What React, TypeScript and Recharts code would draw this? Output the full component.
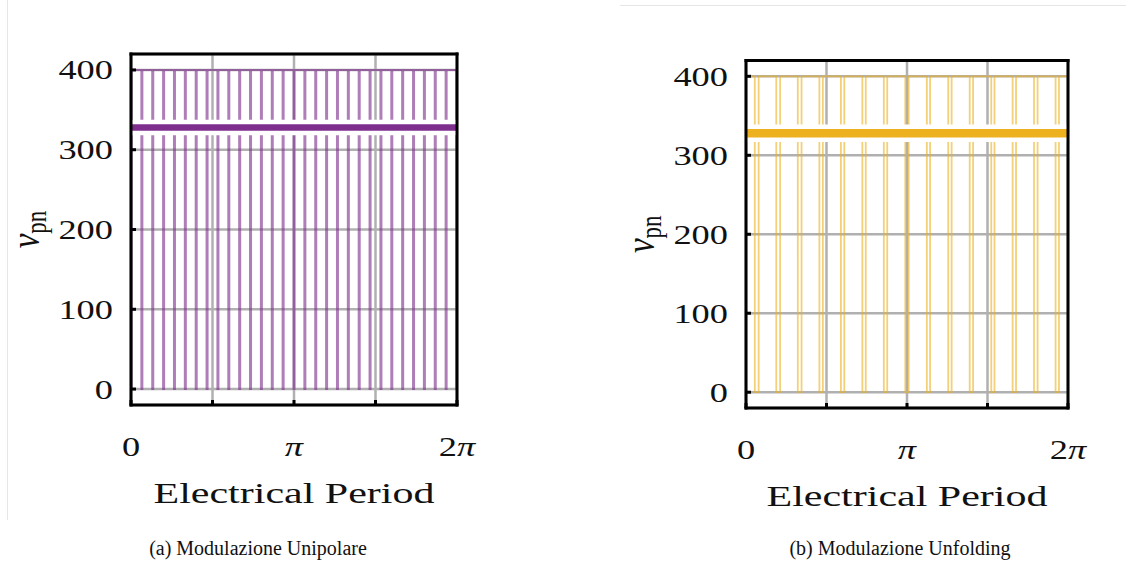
import { CartesianGrid, Line, LineChart, XAxis, YAxis } from 'recharts'

const PI = Math.PI

// axis ticks (radians) and labels; the quarter ticks carry no label
const xTicks = [0, PI / 2, PI, (3 * PI) / 2, 2 * PI]
const xTickLabels = ['0', '', 'π', '', '2π']
const yTicks = [0, 100, 200, 300, 400]
const yDomain = [-20, 420]

// switching levels of v_pn
const vHigh = 400
const vLow = 0

// (a) unipolare: notch centres (deg of the period) and widths (deg)
const unipolarNotchDeg = [
  0, 12, 24, 36, 48, 60, 72, 84, 96, 108, 120, 132, 144, 156, 168, 180,
  192, 204, 216, 228, 240, 252, 264, 276, 288, 300, 312, 324, 336, 348, 360,
]
const unipolarNotchWidthDeg = [
  1, 1, 1, 1, 1, 1, 1, 1, 1, 1, 1, 1, 1, 1, 1, 1,
  1, 1, 1, 1, 1, 1, 1, 1, 1, 1, 1, 1, 1, 1, 1,
]
const unipolarMean = 328

// (b) unfolding
const unfoldingNotchDeg = [12, 36, 60, 84, 108, 132, 156, 180, 204, 228, 252, 276, 300, 324, 348]
const unfoldingNotchWidthDeg = [4.3, 4.3, 4.2, 3.9, 3.8, 3.8, 3.8, 3.8, 3.6, 3.8, 3.8, 3.6, 3.8, 4, 3.8]
const unfoldingMean = 328

const purple = '#7E2F8E'
const orange = '#EDB120'
const serif = '"Liberation Serif", "Times New Roman", serif'
const SX = 1.3 // the original figure is stretched horizontally
const FS = 28

type Pt = { t: number; v: number }

function buildTrace(centres: number[], widths: number[]): Pt[] {
  const pts: Pt[] = [{ t: 0, v: vHigh }]
  centres.forEach((c, i) => {
    const a = ((c - widths[i] / 2) * PI) / 180
    const b = ((c + widths[i] / 2) * PI) / 180
    pts.push({ t: a, v: vHigh }, { t: a, v: vLow }, { t: b, v: vLow }, { t: b, v: vHigh })
  })
  pts.push({ t: 2 * PI, v: vHigh })
  return pts
}

const flat = (v: number): Pt[] => [
  { t: 0, v },
  { t: 2 * PI, v },
]

function mathText(s: string) {
  return s.split('').map((ch, i) =>
    ch === 'π' ? (
      <tspan key={i} fontStyle="italic">
        π
      </tspan>
    ) : (
      <tspan key={i}>{ch}</tspan>
    ),
  )
}

function BottomTick(props: any) {
  const { x, y, index } = props
  const label = xTickLabels[index]
  return (
    <g>
      <line x1={x} x2={x} y1={y} y2={y - 5} stroke="#000" strokeWidth={3} />
      {label && (
        <text
          transform={`translate(${x},${y + 51}) scale(${SX},1)`}
          textAnchor="middle"
          fontSize={FS}
          fontFamily={serif}
          fill="#111"
        >
          {mathText(label)}
        </text>
      )}
    </g>
  )
}

function LeftTick(props: any) {
  const { x, y, payload } = props
  return (
    <g>
      <line x1={x} x2={x + 5} y1={y} y2={y} stroke="#000" strokeWidth={3} />
      <text
        transform={`translate(${x - 18},${y + 9.5}) scale(${SX},1)`}
        textAnchor="end"
        fontSize={FS}
        fontFamily={serif}
        fill="#111"
      >
        {payload.value}
      </text>
    </g>
  )
}

function xTitle(props: any) {
  const { x, y, width } = props.viewBox
  return (
    <text
      x={x + width / 2}
      y={y + 98}
      textAnchor="middle"
      fontSize={30}
      fontFamily={serif}
      fill="#111"
      textLength={281}
      lengthAdjust="spacingAndGlyphs"
    >
      Electrical Period
    </text>
  )
}

function yTitle(props: any) {
  const { x, y, width, height } = props.viewBox
  const bx = x + width - 92
  const cy = y + height * 0.5
  return (
    <text
      transform={`translate(${bx},${cy}) scale(${SX},1) rotate(-90)`}
      textAnchor="middle"
      fontSize={33}
      fontFamily={serif}
      fill="#111"
    >
      <tspan fontStyle="italic">v</tspan>
      <tspan fontSize={23} dy={5}>
        pn
      </tspan>
    </text>
  )
}

const frame = { stroke: '#000', strokeWidth: 3, strokeLinecap: 'square' as const }

interface PanelProps {
  trace: Pt[]
  mean: number
  color: string
  traceWidth: number
  traceOpacity: number
  meanWidth: number
  width: number
  margin: { top: number; right: number; bottom: number; left: number }
  yAxisWidth: number
  xAxisHeight: number
}

function Panel(p: PanelProps) {
  return (
    <LineChart width={p.width} height={530} margin={p.margin}>
      <CartesianGrid xAxisId="b" yAxisId="l" stroke="#b0b0b0" strokeWidth={2.5} />
      <Line
        xAxisId="b"
        yAxisId="l"
        data={p.trace}
        dataKey="v"
        type="linear"
        stroke={p.color}
        strokeOpacity={p.traceOpacity}
        strokeWidth={p.traceWidth}
        dot={false}
        activeDot={false}
        isAnimationActive={false}
      />
      <Line
        xAxisId="b"
        yAxisId="l"
        data={flat(p.mean)}
        dataKey="v"
        stroke="#fff"
        strokeWidth={p.meanWidth + 9}
        dot={false}
        activeDot={false}
        isAnimationActive={false}
      />
      <Line
        xAxisId="b"
        yAxisId="l"
        data={flat(p.mean)}
        dataKey="v"
        stroke={p.color}
        strokeWidth={p.meanWidth}
        dot={false}
        activeDot={false}
        isAnimationActive={false}
      />
      <XAxis
        xAxisId="b"
        dataKey="t"
        type="number"
        domain={[0, 2 * PI]}
        ticks={xTicks}
        interval={0}
        allowDataOverflow
        height={p.xAxisHeight}
        axisLine={frame}
        tickLine={false}
        tickSize={0}
        tickMargin={0}
        tick={BottomTick}
        label={xTitle}
      />
      <XAxis
        xAxisId="t"
        orientation="top"
        dataKey="t"
        type="number"
        domain={[0, 2 * PI]}
        ticks={xTicks}
        interval={0}
        mirror
        height={1}
        axisLine={frame}
        tickLine={{ stroke: '#000', strokeWidth: 3 }}
        tickSize={5}
        tick={false}
      />
      <YAxis
        yAxisId="l"
        type="number"
        domain={yDomain}
        ticks={yTicks}
        interval={0}
        allowDataOverflow
        width={p.yAxisWidth}
        axisLine={frame}
        tickLine={false}
        tickSize={0}
        tickMargin={0}
        tick={LeftTick}
        label={yTitle}
      />
      <YAxis
        yAxisId="r"
        orientation="right"
        type="number"
        domain={yDomain}
        ticks={yTicks}
        interval={0}
        mirror
        width={1}
        axisLine={frame}
        tickLine={{ stroke: '#000', strokeWidth: 3 }}
        tickSize={5}
        tick={false}
      />
    </LineChart>
  )
}

const captionStyle: React.CSSProperties = {
  position: 'absolute',
  top: 537,
  width: 400,
  textAlign: 'center',
  fontFamily: serif,
  fontSize: 20,
  color: '#111',
}

export default function App() {
  return (
    <div
      style={{ position: 'absolute', left: 0, top: 0, width: 1126, height: 573, background: '#fff', overflow: 'hidden' }}
    >
      <div style={{ position: 'absolute', left: 7, top: 0, width: 1, height: 520, background: '#e6e6e6' }} />
      <div style={{ position: 'absolute', left: 620, top: 5, width: 506, height: 1, background: '#e6e6e6' }} />
      <div style={{ position: 'absolute', left: 0, top: 0 }}>
        <Panel
          trace={buildTrace(unipolarNotchDeg, unipolarNotchWidthDeg)}
          mean={unipolarMean}
          color={purple}
          traceWidth={2.1}
          traceOpacity={0.62}
          meanWidth={6.5}
          width={500}
          margin={{ top: 54, right: 43, bottom: 0, left: 0 }}
          yAxisWidth={131}
          xAxisHeight={125}
        />
      </div>
      <div style={{ position: 'absolute', left: 560, top: 0 }}>
        <Panel
          trace={buildTrace(unfoldingNotchDeg, unfoldingNotchWidthDeg)}
          mean={unfoldingMean}
          color={orange}
          traceWidth={1.8}
          traceOpacity={0.6}
          meanWidth={8.5}
          width={560}
          margin={{ top: 60.5, right: 52, bottom: 0, left: 0 }}
          yAxisWidth={186}
          xAxisHeight={122}
        />
      </div>
      <div style={{ ...captionStyle, left: 58 }}>(a) Modulazione Unipolare</div>
      <div style={{ ...captionStyle, left: 700 }}>(b) Modulazione Unfolding</div>
    </div>
  )
}
